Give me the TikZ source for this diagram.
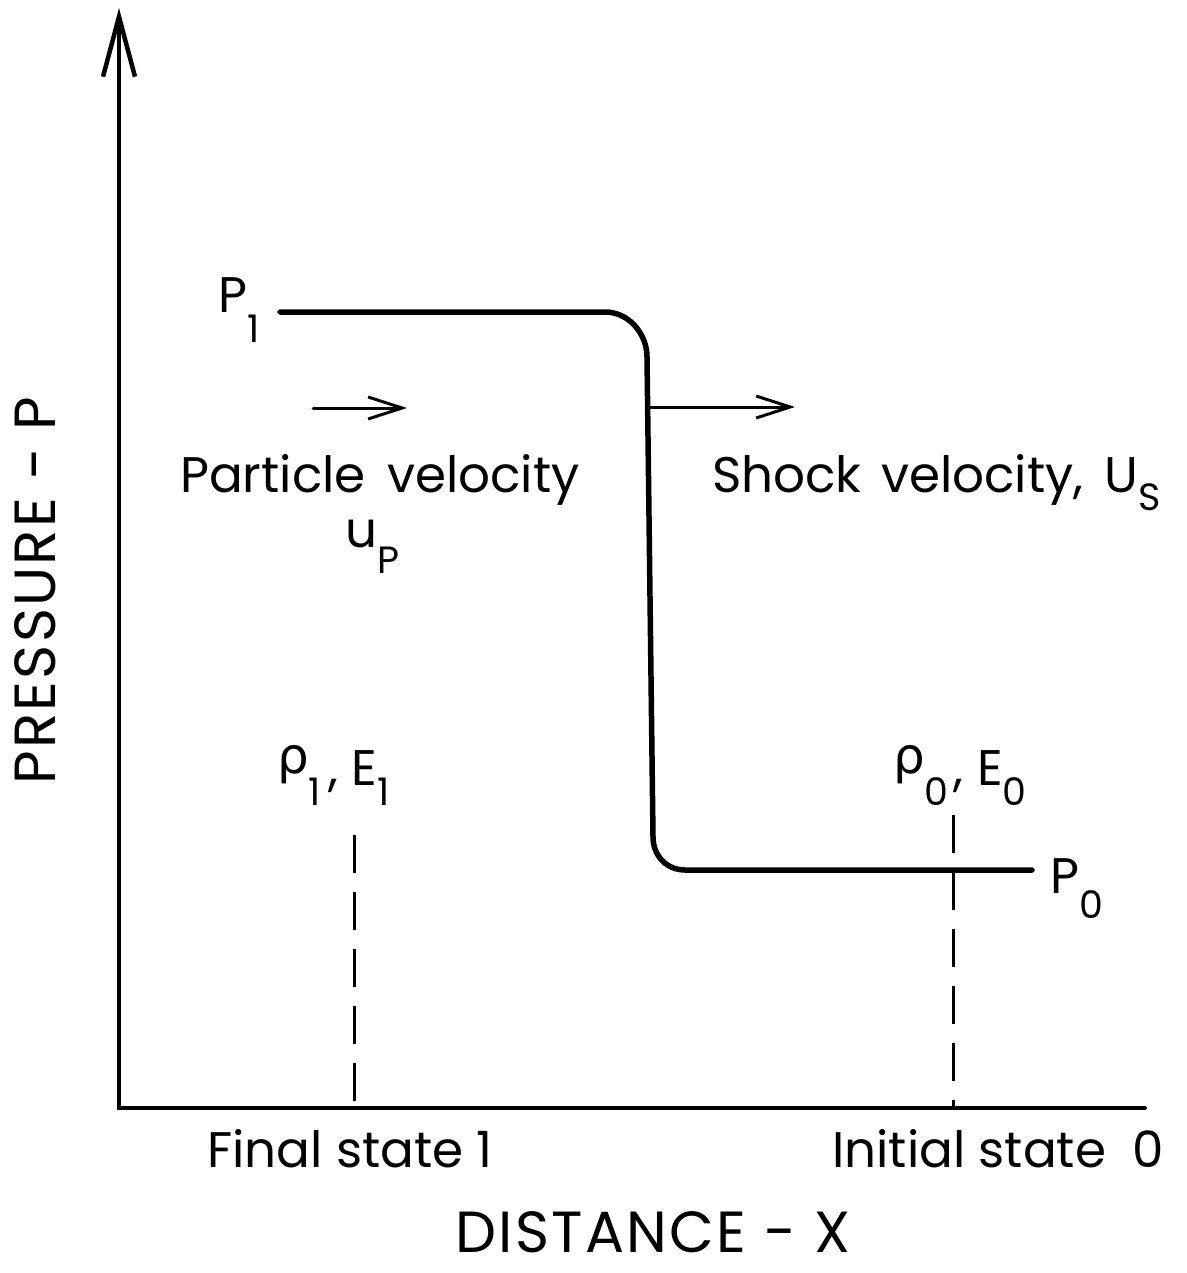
\documentclass[tikz,border=0pt]{standalone}
\usepackage{fontspec}
\setmainfont{Poppins}
\newfontfamily\grk{DejaVu Sans}
\usetikzlibrary{arrows.meta}
\newcommand{\lsub}[2]{\raisebox{-#1pt}{\fontsize{38}{38}\selectfont #2}}
\begin{document}
\begin{tikzpicture}[x=1pt,y=-1pt,
  lbl/.style={inner sep=0pt, font=\fontsize{50}{50}\selectfont, anchor=base west},
  big/.style={inner sep=0pt, font=\fontsize{58}{58}\selectfont\addfontfeature{LetterSpace=4}, anchor=base west},
  axis/.style={line width=4pt, line cap=round},
  curve/.style={line width=5.5pt, line cap=round},
  vel/.style={line width=3pt, line cap=round, -{Straight Barb[length=34pt,width=22pt,line width=3pt]}},
  dashline/.style={line width=3pt, dash pattern=on 38pt off 19pt}]
\useasboundingbox (0,0) rectangle (1186,1273);
% axes
\coordinate (O) at (119,1108);
\coordinate (ytop) at (119,8);
\coordinate (xend) at (1145,1108);
\draw[axis, {Straight Barb[length=60pt,width=32pt,line width=4.5pt]}-] (ytop) -- (O) -- (xend);
% shock profile
\coordinate (c1) at (280,312);
\coordinate (c2) at (605,312);
\coordinate (c3) at (647,357);
\coordinate (c4) at (653,837);
\coordinate (c5) at (685,870);
\coordinate (c6) at (1032,870);
\draw[curve] (c1) -- (c2) .. controls (629,312) and (647,334) .. (c3) -- (c4) .. controls (653,856) and (667,870) .. (c5) -- (c6);
% velocity arrows
\coordinate (sa) at (649,407);
\coordinate (sb) at (795,407);
\draw[vel] (sa) -- (sb);
\coordinate (pa) at (313,408);
\coordinate (pb) at (407,408);
\draw[vel] (pa) -- (pb);
% dashed state lines
\coordinate (d1t) at (354,835);
\coordinate (d1b) at (354,1108);
\coordinate (d0t) at (953,815);
\coordinate (d0b) at (953,1108);
\draw[dashline] (d1t) -- (d1b);
\draw[dashline] (d0t) -- (d0b);
% labels
\node[lbl] (P1) at (218,312) {P\lsub{30}{1}};
\node[lbl] (pv) at (180,492) {Particle\hspace{8pt} velocity};
\node[lbl] (up) at (345,547) {u\lsub{26}{P}};
\node[lbl] (sv) at (712,492) {Shock\hspace{6pt} velocity,\hspace{8pt} U\lsub{18}{S}};
\node[lbl] (r1) at (277,785) {\raisebox{12pt}{\grk ρ}\lsub{20}{1}\kern7pt, E\lsub{20}{1}};
\node[lbl] (r0) at (893,785) {\raisebox{12pt}{\grk ρ}\lsub{20}{0}\kern5pt, E\lsub{20}{0}};
\node[lbl] (P0) at (1050,893) {P\lsub{25}{0}};
\node[lbl] (fs) at (207,1167) {Final state 1};
\node[lbl] (is) at (832,1167) {Initial state\ \ 0};
\node[big] (dx) at (455,1252) {DISTANCE - X};
\node[big, rotate=90] (py) at (55,785) {PRESSURE - P};
\end{tikzpicture}
\end{document}
